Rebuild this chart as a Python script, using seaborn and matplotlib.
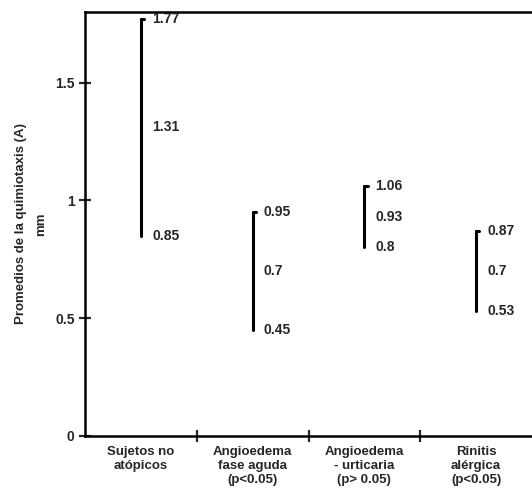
import matplotlib
matplotlib.use("Agg")
import matplotlib.pyplot as plt
import seaborn as sns
import pandas as pd
import numpy as np

categories = ["Sujetos no\natópicos", "Angioedema\nfase aguda\n(p<0.05)",
              "Angioedema\n- urticaria\n(p> 0.05)", "Rinitis\nalérgica\n(p<0.05)"]
min_vals = [0.85, 0.45, 0.80, 0.53]
mean_vals = [1.31, 0.70, 0.93, 0.70]
max_vals = [1.77, 0.95, 1.06, 0.87]
min_labels = ["0.85", "0.45", "0.8", "0.53"]
mean_labels = ["1.31", "0.7", "0.93", "0.7"]
max_labels = ["1.77", "0.95", "1.06", "0.87"]
yticks = [0, 0.5, 1, 1.5]
ytick_labels = ["0", "0.5", "1", "1.5"]

sns.set_style("white")
plt.rcParams['font.family'] = ['Liberation Sans', 'DejaVu Sans']
plt.rcParams['font.weight'] = 'bold'

rows = []
for c, a, m, b in zip(categories, min_vals, mean_vals, max_vals):
    for v in (a, m, b):
        rows.append({"cat": c, "val": v})
df = pd.DataFrame(rows)

fig = plt.figure(figsize=(5.32, 5.01), dpi=100)
ax = fig.add_axes([0.16, 0.13, 0.84, 0.846])

sns.pointplot(data=df, x="cat", y="val", order=categories, errorbar=("pi", 100),
              color="black", markers="", linestyles="none",
              err_kws={"linewidth": 2.2}, ax=ax)

for i in range(len(categories)):
    for v, lab in ((min_vals[i], min_labels[i]), (mean_vals[i], mean_labels[i]), (max_vals[i], max_labels[i])):
        ax.text(i + 0.1, v, lab, ha="left", va="center", fontsize=10, fontweight="bold")
    ax.plot([i, i + 0.03], [max_vals[i], max_vals[i]], color="black", lw=2.2)

ax.set_xlim(-0.5, 3.5)
ax.set_ylim(0, 1.8)
ax.set_yticks(yticks)
ax.set_yticklabels(ytick_labels, fontsize=10, fontweight="bold")
ax.set_xticks(range(len(categories)))
ax.set_xticklabels(categories, fontsize=9.5, fontweight="bold", linespacing=1.25)
ax.tick_params(axis="x", which="major", length=0, pad=7)
ax.set_xticks([0.5, 1.5, 2.5], minor=True)
ax.tick_params(axis="x", which="minor", bottom=True, length=9, width=1.6, direction="inout")
ax.tick_params(axis="y", left=True, length=9, width=1.6, direction="inout", pad=3)
ax.set_xlabel("")
ax.set_ylabel("Promedios de la quimiotaxis (A)\nmm", fontsize=9.5, fontweight="bold",
              labelpad=6, linespacing=1.9)

for s in ("left", "top", "bottom"):
    ax.spines[s].set_visible(True)
    ax.spines[s].set_linewidth(1.8)
    ax.spines[s].set_color("black")
ax.spines["right"].set_visible(False)

fig.savefig("out.png", dpi=100)
